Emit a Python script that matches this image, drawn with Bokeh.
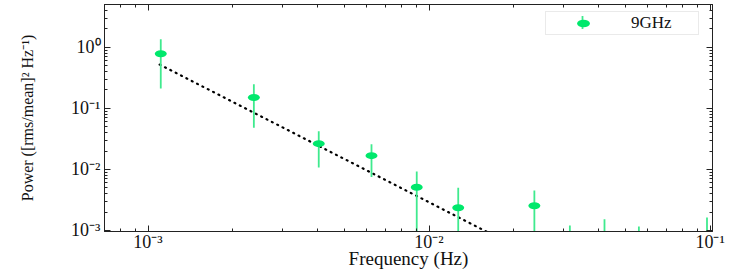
import math
from bokeh.plotting import figure
from bokeh.models import (Range1d, LogAxis, FixedTicker, CustomJSTickFormatter,
                          Legend, LegendItem, ColumnDataSource)
from bokeh.embed import file_html
from bokeh.resources import INLINE

# ---- data ----
freq = [1.11e-3, 2.38e-3, 4.05e-3, 6.24e-3, 9.04e-3, 1.27e-2, 2.37e-2,
        3.17e-2, 4.21e-2, 5.58e-2, 9.75e-2]
power = [0.78, 0.150, 0.0264, 0.0168, 0.0051, 0.00236, 0.00254,
         4.0e-4, 5.0e-4, 4.0e-4, 5.0e-4]
power_hi = [1.35, 0.247, 0.042, 0.0257, 0.0092, 0.0050, 0.0045,
            0.00121, 0.00153, 0.00116, 0.00163]
power_lo = [0.21, 0.048, 0.0107, 0.0075, 1e-5, 1e-5, 1e-5,
            1e-5, 1e-5, 1e-5, 1e-5]
fit_freq = [1.1e-3, 1.6e-2]
fit_power = [0.52, 9.6e-4]
major_ticks = [1e-4, 1e-3, 1e-2, 1e-1, 1e0, 1e1]
series_label = "9GHz"
x_label = "Frequency (Hz)"
y_label = "Power ([rms/mean]\u00b2 Hz\u207b\u00b9)"

minor_ticks = [m * t for t in major_ticks for m in range(2, 10)]

GREEN = "#00e86c"
BAR_GREEN = "#3fea8e"
SERIF = "Liberation Serif"
DARK = "#222222"

X0, X1 = 7.0e-4, 1.02e-1
Y0, Y1 = 9.63e-4, 5.0
FW, FH = 608, 227

p = figure(frame_width=FW, frame_height=FH, x_axis_type="log", y_axis_type="log",
           x_range=Range1d(X0, X1), y_range=Range1d(Y0, Y1),
           output_backend="svg", toolbar_location=None,
           min_border_left=104, min_border_right=35, min_border_top=4,
           min_border_bottom=0)
p.grid.visible = False
p.outline_line_color = DARK
p.background_fill_color = "white"
p.border_fill_color = "white"

src = ColumnDataSource(dict(x=freq, y=power, hi=power_hi, lo=power_lo))

p.line(fit_freq, fit_power, line_color="black", line_width=2.2,
       line_dash="1 5", line_cap="round")
p.segment(x0="x", y0="lo", x1="x", y1="hi", source=src,
          line_color=BAR_GREEN, line_width=1.8)
ell = p.ellipse(x="x", y="y", width=12, height=7, width_units="screen",
                height_units="screen", source=src, fill_color=GREEN,
                line_color=None)

fmt_js = """
const sup = {"-": "\\u207b", "0": "\\u2070", "1": "\\u00b9", "2": "\\u00b2",
             "3": "\\u00b3", "4": "\\u2074", "5": "\\u2075"};
const e = Math.round(Math.log10(tick));
let s = "";
for (const c of String(e)) s += sup[c];
return "10" + s;
"""

def style(ax, labels=True):
    ax.ticker = FixedTicker(ticks=major_ticks, minor_ticks=minor_ticks)
    ax.major_tick_in = 6
    ax.major_tick_out = 0
    ax.minor_tick_in = 3
    ax.minor_tick_out = 0
    ax.axis_line_color = DARK
    ax.major_tick_line_color = DARK
    ax.minor_tick_line_color = DARK
    if labels:
        ax.formatter = CustomJSTickFormatter(code=fmt_js)
        ax.major_label_text_font = SERIF
        ax.major_label_text_font_size = "18px"
        ax.major_label_text_color = "#111111"
    else:
        ax.formatter = CustomJSTickFormatter(code="return '';")
        ax.major_label_text_font_size = "1px"
        ax.major_label_standoff = 0

style(p.xaxis[0])
style(p.yaxis[0])
p.xaxis[0].major_label_standoff = 0
p.yaxis[0].major_label_standoff = 4
p.xaxis[0].axis_label = x_label
p.xaxis[0].axis_label_text_font = SERIF
p.xaxis[0].axis_label_text_font_size = "19px"
p.xaxis[0].axis_label_text_font_style = "normal"
p.xaxis[0].axis_label_text_color = "#111111"
p.xaxis[0].axis_label_standoff = -7
p.yaxis[0].axis_label = y_label
p.yaxis[0].axis_label_text_font = SERIF
p.yaxis[0].axis_label_text_font_size = "16px"
p.yaxis[0].axis_label_text_font_style = "normal"
p.yaxis[0].axis_label_text_color = "#111111"
p.yaxis[0].axis_label_standoff = 32

top = LogAxis()
right = LogAxis()
style(top, labels=False)
style(right, labels=False)
p.add_layout(top, "above")
p.add_layout(right, "right")

# vertical error-bar stroke of the legend key (legend box is transparent)
LEG_X, LEG_Y, LEG_PAD, GLYPH_W = 441, 196, 1, 72

def frame_px_to_x(px):
    return 10 ** (math.log10(X0) + px / FW * math.log10(X1 / X0))

def frame_px_to_y(py_from_top):
    return 10 ** (math.log10(Y1) - py_from_top / FH * math.log10(Y1 / Y0))

key_x = frame_px_to_x(LEG_X + LEG_PAD + GLYPH_W / 2)
p.segment(x0=[key_x], x1=[key_x],
          y0=[frame_px_to_y(11.5)], y1=[frame_px_to_y(24.5)],
          line_color=BAR_GREEN, line_width=1.8)

legend = Legend(items=[LegendItem(label=series_label, renderers=[ell])],
                location=(LEG_X, LEG_Y), orientation="vertical",
                padding=LEG_PAD, margin=0, spacing=0,
                glyph_width=GLYPH_W, glyph_height=16, label_standoff=12,
                label_width=66, label_height=16,
                label_text_font=SERIF, label_text_font_size="17px",
                label_text_color="#111111",
                border_line_color="#d6d6d6", border_line_width=1,
                background_fill_alpha=0)
p.add_layout(legend, "center")

open("out.html", "w").write(file_html(p, INLINE))
